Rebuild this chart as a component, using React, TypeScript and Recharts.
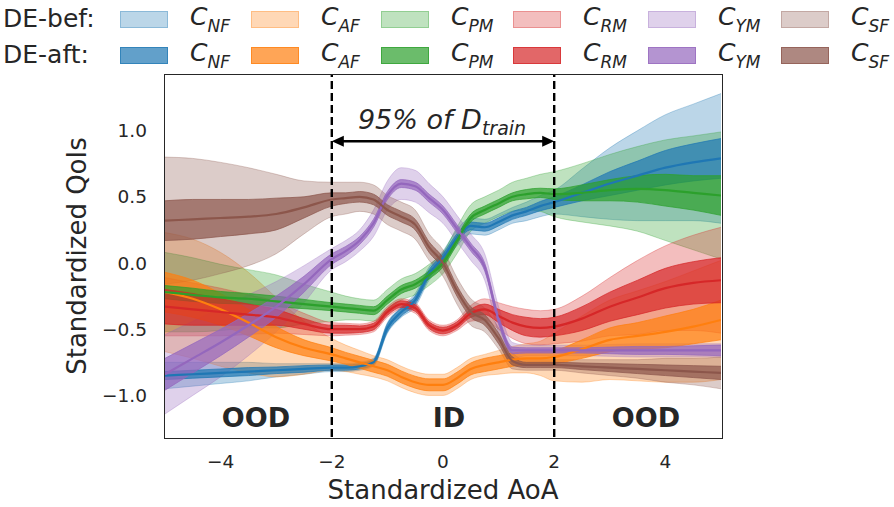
import React from "react";
import { ComposedChart, Area, Line, XAxis, YAxis, ReferenceLine } from "recharts";

// standardized AoA grid (finer inside the training range)
const aoa = [-5, -4.5, -4, -3.5, -3, -2.5, -2, -1.75, -1.5, -1.25, -1, -0.75, -0.5, -0.25, 0, 0.25, 0.5, 0.75, 1, 1.25, 1.5, 1.75, 2, 2.5, 3, 3.5, 4, 4.5, 5];

const nfMean = [-0.85, -0.84, -0.83, -0.82, -0.81, -0.8, -0.79, -0.79, -0.78, -0.75, -0.49, -0.37, -0.28, -0.08, 0.04, 0.19, 0.28, 0.27, 0.31, 0.36, 0.39, 0.43, 0.46, 0.53, 0.6, 0.66, 0.72, 0.76, 0.79];
const nfAft = [0.03, 0.03, 0.03, 0.03, 0.025, 0.025, 0.02, 0.02, 0.02, 0.02, 0.03, 0.03, 0.03, 0.03, 0.03, 0.03, 0.03, 0.03, 0.03, 0.03, 0.03, 0.035, 0.04, 0.06, 0.09, 0.11, 0.13, 0.14, 0.15];
const nfBef = [0.1, 0.09, 0.08, 0.07, 0.05, 0.04, 0.03, 0.03, 0.03, 0.03, 0.04, 0.04, 0.05, 0.05, 0.05, 0.06, 0.06, 0.06, 0.06, 0.06, 0.07, 0.08, 0.09, 0.18, 0.27, 0.34, 0.4, 0.44, 0.49];

const afMean = [-0.22, -0.27, -0.35, -0.45, -0.56, -0.64, -0.69, -0.72, -0.75, -0.78, -0.81, -0.86, -0.9, -0.92, -0.92, -0.87, -0.8, -0.77, -0.75, -0.73, -0.72, -0.72, -0.71, -0.65, -0.58, -0.55, -0.52, -0.48, -0.43];
const afAft = [0.15, 0.14, 0.12, 0.1, 0.08, 0.06, 0.05, 0.045, 0.045, 0.045, 0.045, 0.045, 0.045, 0.045, 0.045, 0.045, 0.045, 0.05, 0.05, 0.05, 0.05, 0.05, 0.05, 0.07, 0.09, 0.1, 0.12, 0.13, 0.15];
const afBef = [0.45, 0.45, 0.43, 0.38, 0.3, 0.2, 0.12, 0.1, 0.09, 0.08, 0.08, 0.08, 0.08, 0.08, 0.08, 0.08, 0.08, 0.08, 0.09, 0.1, 0.11, 0.13, 0.18, 0.25, 0.3, 0.34, 0.38, 0.42, 0.45];

const pmMean = [-0.22, -0.24, -0.26, -0.27, -0.29, -0.31, -0.33, -0.34, -0.35, -0.36, -0.28, -0.2, -0.16, -0.09, 0.0, 0.17, 0.34, 0.4, 0.45, 0.5, 0.52, 0.53, 0.52, 0.53, 0.55, 0.56, 0.55, 0.53, 0.51];
const pmAft = [0.05, 0.05, 0.045, 0.04, 0.04, 0.035, 0.03, 0.03, 0.03, 0.03, 0.03, 0.03, 0.03, 0.03, 0.03, 0.03, 0.03, 0.03, 0.03, 0.03, 0.035, 0.035, 0.04, 0.06, 0.08, 0.1, 0.12, 0.13, 0.15];
const pmBef = [0.3, 0.28, 0.25, 0.22, 0.2, 0.15, 0.11, 0.09, 0.08, 0.08, 0.08, 0.08, 0.08, 0.08, 0.08, 0.1, 0.1, 0.1, 0.1, 0.11, 0.12, 0.14, 0.17, 0.22, 0.27, 0.32, 0.38, 0.43, 0.48];

const rmMean = [-0.33, -0.35, -0.37, -0.39, -0.41, -0.46, -0.5, -0.5, -0.5, -0.48, -0.37, -0.31, -0.34, -0.47, -0.51, -0.47, -0.38, -0.35, -0.4, -0.45, -0.48, -0.49, -0.48, -0.42, -0.33, -0.26, -0.19, -0.15, -0.13];
const rmAft = [0.13, 0.12, 0.1, 0.08, 0.06, 0.04, 0.03, 0.03, 0.025, 0.025, 0.025, 0.025, 0.025, 0.025, 0.025, 0.025, 0.03, 0.04, 0.05, 0.06, 0.07, 0.07, 0.07, 0.09, 0.11, 0.13, 0.15, 0.16, 0.17];
const rmBef = [0.22, 0.2, 0.18, 0.15, 0.12, 0.08, 0.05, 0.045, 0.04, 0.04, 0.04, 0.04, 0.04, 0.04, 0.04, 0.04, 0.06, 0.08, 0.1, 0.12, 0.13, 0.13, 0.13, 0.17, 0.22, 0.28, 0.32, 0.36, 0.4];

const ymMean = [-0.84, -0.72, -0.6, -0.47, -0.33, -0.16, 0.03, 0.09, 0.17, 0.3, 0.51, 0.6, 0.58, 0.49, 0.4, 0.26, 0.12, -0.03, -0.43, -0.66, -0.66, -0.66, -0.66, -0.66, -0.66, -0.66, -0.66, -0.66, -0.66];
const ymAft = [0.12, 0.11, 0.1, 0.09, 0.08, 0.06, 0.04, 0.035, 0.03, 0.03, 0.03, 0.03, 0.03, 0.03, 0.03, 0.03, 0.03, 0.03, 0.03, 0.025, 0.02, 0.02, 0.02, 0.02, 0.025, 0.03, 0.03, 0.035, 0.04];
const ymBef = [0.3, 0.28, 0.26, 0.23, 0.19, 0.14, 0.08, 0.08, 0.08, 0.1, 0.11, 0.12, 0.12, 0.11, 0.1, 0.1, 0.1, 0.1, 0.1, 0.06, 0.04, 0.04, 0.04, 0.04, 0.045, 0.05, 0.05, 0.05, 0.05];

const sfMean = [0.32, 0.33, 0.34, 0.35, 0.37, 0.42, 0.48, 0.49, 0.5, 0.48, 0.4, 0.35, 0.29, 0.12, 0.0, -0.21, -0.37, -0.43, -0.57, -0.74, -0.77, -0.77, -0.77, -0.78, -0.79, -0.8, -0.81, -0.82, -0.83];
const sfAft = [0.15, 0.15, 0.14, 0.13, 0.12, 0.08, 0.05, 0.04, 0.04, 0.04, 0.04, 0.04, 0.04, 0.04, 0.04, 0.04, 0.04, 0.04, 0.04, 0.03, 0.02, 0.02, 0.02, 0.025, 0.03, 0.035, 0.04, 0.045, 0.05];
const sfBef = [0.48, 0.46, 0.42, 0.37, 0.3, 0.2, 0.13, 0.12, 0.11, 0.11, 0.11, 0.11, 0.11, 0.1, 0.1, 0.1, 0.1, 0.09, 0.08, 0.06, 0.04, 0.04, 0.04, 0.05, 0.06, 0.07, 0.09, 0.1, 0.12];

const xTicks = [-4, -2, 0, 2, 4];
const yTicks = [-1, -0.5, 0, 0.5, 1];

const series = [
  { key: "nf", sub: "NF", color: "#1f77b4", mean: nfMean, aft: nfAft, bef: nfBef },
  { key: "af", sub: "AF", color: "#ff7f0e", mean: afMean, aft: afAft, bef: afBef },
  { key: "pm", sub: "PM", color: "#2ca02c", mean: pmMean, aft: pmAft, bef: pmBef },
  { key: "rm", sub: "RM", color: "#d62728", mean: rmMean, aft: rmAft, bef: rmBef },
  { key: "ym", sub: "YM", color: "#9467bd", mean: ymMean, aft: ymAft, bef: ymBef },
  { key: "sf", sub: "SF", color: "#8c564b", mean: sfMean, aft: sfAft, bef: sfBef },
];

const rows = aoa.map((x, i) => {
  const row: Record<string, any> = { x };
  series.forEach((s) => {
    const m = s.mean[i];
    row[s.key] = m;
    row[s.key + "Aft"] = [m - s.aft[i], m + s.aft[i]];
    row[s.key + "Bef"] = [m - s.bef[i], m + s.bef[i]];
  });
  return row;
});

const TXT = "#262626";
const FONT = "DejaVu Sans";
const BEF_ALPHA = 0.3;
const AFT_ALPHA = 0.7;

const fmtX = (v: number) => (v < 0 ? "\u2212" : "") + Math.abs(v);
const fmtY = (v: number) => (v < 0 ? "\u2212" : "") + Math.abs(v).toFixed(1);

const hexA = (hex: string, a: number) => {
  const r = parseInt(hex.slice(1, 3), 16);
  const g = parseInt(hex.slice(3, 5), 16);
  const b = parseInt(hex.slice(5, 7), 16);
  return `rgba(${r},${g},${b},${a})`;
};

// double-headed arrow drawn on the ReferenceLine segment
const DoubleArrow = (props: any) => {
  const { x1, y1, x2 } = props;
  const head = 12;
  const half = 5.5;
  return (
    <g>
      <line x1={x1 + head - 1} y1={y1} x2={x2 - head + 1} y2={y1} stroke="#000" strokeWidth={2.5} />
      <polygon points={`${x1},${y1} ${x1 + head},${y1 - half} ${x1 + head},${y1 + half}`} fill="#000" />
      <polygon points={`${x2},${y1} ${x2 - head},${y1 - half} ${x2 - head},${y1 + half}`} fill="#000" />
    </g>
  );
};

const CLabel = ({ sub }: { sub: string }) => (
  <span style={{ fontStyle: "italic", fontSize: 25, color: TXT }}>
    C<span style={{ fontSize: 17, position: "relative", top: 7 }}>{sub}</span>
  </span>
);

const swatchX = [120, 251, 381, 513, 648, 781];

const LegendRow = ({ title, top, alpha }: { title: string; top: number; alpha: number }) => (
  <>
    <div style={{ position: "absolute", left: 3, top: top - 16, fontSize: 25, color: TXT, lineHeight: "32px" }}>{title}</div>
    {series.map((s, i) => (
      <React.Fragment key={s.key + title}>
        <div
          style={{
            position: "absolute",
            left: swatchX[i],
            top: top - 8.5,
            width: 48,
            height: 17,
            boxSizing: "border-box",
            background: hexA(s.color, alpha),
            border: `1.5px solid ${hexA(s.color, alpha)}`,
          }}
        />
        <div style={{ position: "absolute", left: swatchX[i] + 70, top: top - 18, lineHeight: "32px" }}>
          <CLabel sub={s.sub} />
        </div>
      </React.Fragment>
    ))}
  </>
);

const centered = (x: number, y: number, extra: React.CSSProperties = {}): React.CSSProperties => ({
  position: "absolute",
  left: x,
  top: y,
  transform: "translate(-50%, -50%)",
  whiteSpace: "nowrap",
  color: TXT,
  ...extra,
});

export default function App() {
  return (
    <div style={{ position: "absolute", left: 0, top: 0, width: 894, height: 507, background: "#fff", fontFamily: FONT }}>
      <ComposedChart width={894} height={507} data={rows} margin={{ top: 75, right: 173, bottom: 40, left: 105 }}>
        <XAxis
          type="number"
          dataKey="x"
          domain={[-5, 5]}
          ticks={xTicks}
          tickFormatter={fmtX}
          allowDataOverflow
          axisLine={false}
          tickLine={false}
          tickMargin={12}
          height={30}
          tick={{ fill: TXT, fontSize: 18.5, fontFamily: FONT }}
        />
        <YAxis
          type="number"
          domain={[-1.314, 1.42]}
          ticks={yTicks}
          tickFormatter={fmtY}
          allowDataOverflow
          axisLine={false}
          tickLine={false}
          tickMargin={12}
          width={60}
          tick={{ fill: TXT, fontSize: 18.5, fontFamily: FONT }}
        />
        {series.map((s) => (
          <Area
            key={s.key + "Bef"}
            type="monotone"
            dataKey={s.key + "Bef"}
            fill={s.color}
            fillOpacity={BEF_ALPHA}
            stroke={s.color}
            strokeOpacity={BEF_ALPHA}
            strokeWidth={1}
            dot={false}
            activeDot={false}
            isAnimationActive={false}
          />
        ))}
        {series.map((s) => (
          <Area
            key={s.key + "Aft"}
            type="monotone"
            dataKey={s.key + "Aft"}
            fill={s.color}
            fillOpacity={AFT_ALPHA}
            stroke={s.color}
            strokeOpacity={AFT_ALPHA}
            strokeWidth={1}
            dot={false}
            activeDot={false}
            isAnimationActive={false}
          />
        ))}
        {series.map((s) => (
          <Line
            key={s.key}
            type="monotone"
            dataKey={s.key}
            stroke={s.color}
            strokeWidth={2.2}
            dot={false}
            activeDot={false}
            isAnimationActive={false}
          />
        ))}
        <ReferenceLine x={-2} stroke="#000" strokeWidth={2.4} strokeDasharray="8 4" />
        <ReferenceLine x={2} stroke="#000" strokeWidth={2.4} strokeDasharray="8 4" />
        <ReferenceLine
          segment={[
            { x: -2, y: 0.92 },
            { x: 2, y: 0.92 },
          ]}
          shape={DoubleArrow}
        />
      </ComposedChart>

      {/* plot frame */}
      <div
        style={{
          position: "absolute",
          left: 164,
          top: 74,
          width: 559,
          height: 365,
          boxSizing: "border-box",
          border: `1.5px solid ${TXT}`,
          pointerEvents: "none",
        }}
      />

      <LegendRow title="DE-bef:" top={19} alpha={BEF_ALPHA} />
      <LegendRow title="DE-aft:" top={55} alpha={AFT_ALPHA} />

      <div style={centered(442, 119, { fontSize: 27, fontStyle: "italic" })}>
        95% of D<span style={{ fontSize: 19, position: "relative", top: 6 }}>train</span>
      </div>

      <div style={centered(256, 417, { fontSize: 27, fontWeight: "bold" })}>OOD</div>
      <div style={centered(449, 417, { fontSize: 27, fontWeight: "bold" })}>ID</div>
      <div style={centered(646, 417, { fontSize: 27, fontWeight: "bold" })}>OOD</div>

      <div style={centered(443, 490, { fontSize: 26 })}>Standardized AoA</div>
      <div style={centered(77, 256, { fontSize: 26, transform: "translate(-50%, -50%) rotate(-90deg)" })}>Standardized QoIs</div>
    </div>
  );
}
